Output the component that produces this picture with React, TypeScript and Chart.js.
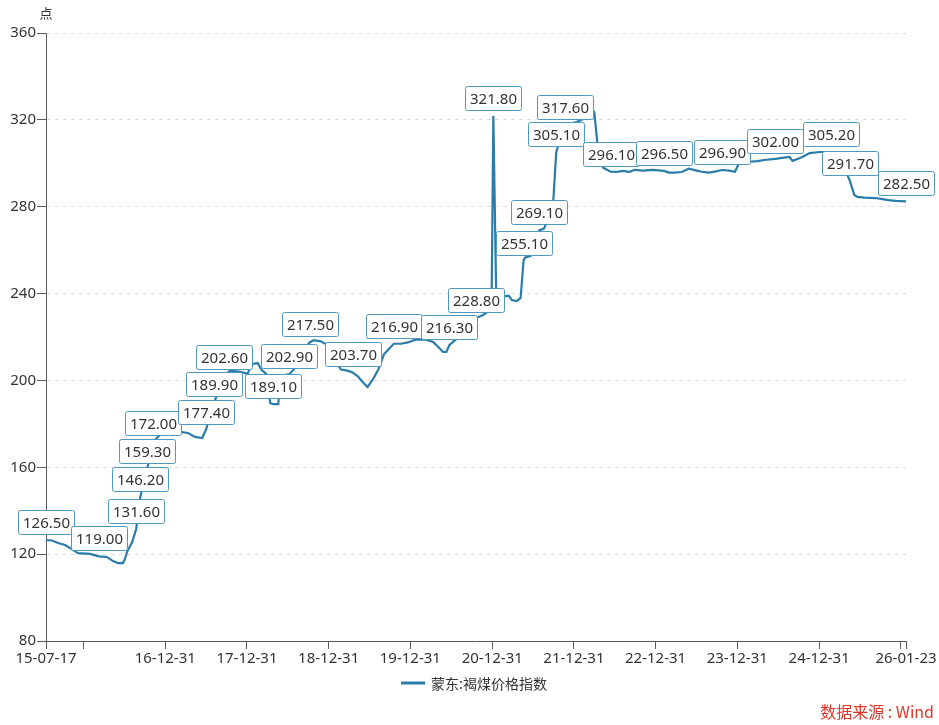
import React, { useEffect, useRef } from 'react';
import { Chart, registerables } from 'chart.js';

Chart.register(...registerables);

const seriesName = '蒙东:褐煤价格指数';
const unitLabel = '点';
const sourceText = '数据来源 : Wind';

const dates = [
  '2015-07-17', '2015-08-13', '2015-09-09', '2015-10-10', '2015-11-02', '2015-12-07',
  '2016-01-30', '2016-03-09', '2016-04-14', '2016-05-11', '2016-06-03', '2016-06-25',
  '2016-07-04', '2016-07-13', '2016-08-05', '2016-08-23', '2016-09-10', '2016-10-11',
  '2016-11-08', '2016-12-09', '2017-01-22', '2017-03-07', '2017-04-12', '2017-05-13',
  '2017-06-14', '2017-07-01', '2017-08-07', '2017-09-21', '2017-10-18', '2017-12-02',
  '2018-01-03', '2018-01-21', '2018-02-17', '2018-03-05', '2018-03-27', '2018-04-14',
  '2018-04-28', '2018-05-20', '2018-05-29', '2018-07-08', '2018-08-05', '2018-09-19',
  '2018-10-07', '2018-10-25', '2018-11-26', '2018-12-22', '2019-01-23', '2019-02-24',
  '2019-03-25', '2019-04-17', '2019-05-09', '2019-06-05', '2019-06-23', '2019-07-20',
  '2019-08-12', '2019-09-04', '2019-09-26', '2019-10-18', '2019-11-19', '2019-12-20',
  '2020-01-26', '2020-03-10', '2020-04-11', '2020-05-03', '2020-05-25', '2020-06-09',
  '2020-06-23', '2020-07-23', '2020-08-24', '2020-09-29', '2020-10-21', '2020-11-22',
  '2020-12-28', '2021-01-05', '2021-01-18', '2021-01-30', '2021-03-15', '2021-03-28',
  '2021-04-19', '2021-05-07', '2021-05-20', '2021-05-26', '2021-06-23', '2021-07-15',
  '2021-07-29', '2021-08-20', '2021-09-12', '2021-09-30', '2021-10-13', '2021-11-19',
  '2022-01-12', '2022-02-26', '2022-03-23', '2022-04-01', '2022-04-19', '2022-05-11',
  '2022-06-13', '2022-07-09', '2022-08-05', '2022-09-06', '2022-09-29', '2022-11-04',
  '2022-12-19', '2023-02-07', '2023-02-28', '2023-03-26', '2023-04-27', '2023-05-28',
  '2023-07-03', '2023-07-25', '2023-08-26', '2023-09-27', '2023-10-24', '2023-11-25',
  '2023-12-21', '2024-01-09', '2024-02-23', '2024-03-29', '2024-04-30', '2024-06-18',
  '2024-07-19', '2024-08-20', '2024-09-03', '2024-09-25', '2024-10-17', '2024-11-18',
  '2025-01-02', '2025-02-20', '2025-03-30', '2025-04-22', '2025-05-06', '2025-05-18',
  '2025-06-06', '2025-06-20', '2025-07-21', '2025-09-09', '2025-10-10', '2025-11-06',
  '2025-12-07', '2026-01-23',
];

const values = [
  126.5, 126.3, 125.1, 124.2, 122.8, 120.5,
  120.1, 119.0, 118.7, 116.8, 115.9, 115.9,
  117.8, 121.0, 125.6, 131.6, 146.2, 159.3,
  172.0, 175.0, 176.0, 176.3, 175.8, 174.0,
  173.5, 177.4, 189.9, 202.6, 204.5, 204.0,
  203.0, 207.5, 208.0, 205.0, 203.0, 189.5,
  189.1, 189.1, 202.0, 202.9, 206.0, 215.0,
  217.5, 218.5, 218.0, 216.5, 210.0, 205.0,
  204.5, 203.7, 202.0, 198.8, 197.0, 201.0,
  205.5, 212.0, 214.5, 216.9, 216.9, 217.5,
  218.9, 218.8, 217.7, 215.5, 213.1, 213.1,
  216.3, 219.0, 224.0, 227.9, 228.8, 230.2,
  233.0, 321.8, 238.0, 238.4, 239.0, 237.0,
  236.5, 238.0, 255.1, 256.5, 257.5, 262.0,
  269.1, 270.0, 276.0, 283.0, 305.1, 317.6,
  319.0, 321.0, 324.6, 323.5, 305.0, 298.0,
  296.1, 296.0, 296.5, 296.1, 297.0, 296.6,
  297.0, 296.5, 295.7, 295.7, 296.0, 297.5,
  296.6, 296.1, 295.7, 296.3, 296.9, 296.6,
  296.1, 300.3, 300.7, 301.0, 301.5, 302.0,
  302.5, 302.9, 301.1, 302.0, 302.9, 304.7,
  305.2, 305.2, 304.7, 300.0, 294.6, 291.7,
  285.4, 284.5, 284.2, 284.0, 283.5, 283.0,
  282.7, 282.5,
];

const labelDates = [
  '2015-07-17', '2016-03-09', '2016-08-23', '2016-09-10', '2016-10-11', '2016-11-08',
  '2017-07-01', '2017-08-07', '2017-09-21', '2018-04-28', '2018-07-08', '2018-10-07',
  '2019-04-17', '2019-10-18', '2020-06-23', '2020-10-21', '2021-01-05', '2021-05-20',
  '2021-07-29', '2021-10-13', '2021-11-19', '2022-06-13', '2023-02-07', '2023-10-24',
  '2024-06-18', '2025-02-20', '2025-05-18', '2026-01-23',
];

const tickDates = [
  '2015-07-17', '2015-12-31', '2016-12-31', '2017-12-31', '2018-12-31', '2019-12-31',
  '2020-12-31', '2021-12-31', '2022-12-31', '2023-12-31', '2024-12-31', '2025-12-31',
  '2026-01-23',
];
const hiddenTickDates = ['2015-12-31', '2025-12-31'];

const yMin = 80;
const yMax = 360;
const yStep = 40;

const LINE_COLOR = '#2a7caa';
const BOX_BORDER = '#4f98c2';
const TEXT_COLOR = '#333333';
const AXIS_COLOR = '#5a5a5a';
const FONT_LATIN = '"Noto Sans", "Noto Sans CJK SC", sans-serif';
const FONT_CJK = '"Noto Sans CJK SC", "Noto Sans", sans-serif';

const toDay = (s: string) => {
  const [y, m, d] = s.split('-').map(Number);
  return Date.UTC(y, m - 1, d) / 86400000;
};
const pad2 = (n: number) => (n < 10 ? '0' + n : '' + n);
const fmtDay = (v: number) => {
  const dt = new Date(Math.round(v) * 86400000);
  return `${String(dt.getUTCFullYear()).slice(2)}-${pad2(dt.getUTCMonth() + 1)}-${pad2(dt.getUTCDate())}`;
};

const overlayPlugin = {
  id: 'overlay',
  afterDatasetsDraw(chart: any) {
    const ctx = chart.ctx;
    const meta = chart.getDatasetMeta(0);
    ctx.save();
    ctx.font = `15px ${FONT_LATIN}`;
    labelDates.forEach((ld) => {
      const i = dates.indexOf(ld);
      if (i < 0) return;
      const pt = meta.data[i];
      const text = values[i].toFixed(2);
      const w = Math.round(ctx.measureText(text).width + 9);
      const h = 24;
      const x0 = Math.round(pt.x - w / 2) + 0.5;
      const y0 = Math.round(pt.y - 6 - h) + 0.5;
      ctx.beginPath();
      ctx.roundRect(x0, y0, w, h, 2);
      ctx.fillStyle = '#ffffff';
      ctx.fill();
      ctx.lineWidth = 1;
      ctx.strokeStyle = BOX_BORDER;
      ctx.stroke();
      ctx.fillStyle = TEXT_COLOR;
      ctx.textAlign = 'center';
      ctx.textBaseline = 'middle';
      ctx.fillText(text, x0 + w / 2, y0 + h / 2 + 1);
    });
    ctx.restore();
  },
  afterDraw(chart: any) {
    const ctx = chart.ctx;
    const area = chart.chartArea;
    ctx.save();
    // unit label
    ctx.font = `13px ${FONT_CJK}`;
    ctx.fillStyle = TEXT_COLOR;
    ctx.textAlign = 'center';
    ctx.textBaseline = 'middle';
    ctx.fillText(unitLabel, area.left, 13);
    // legend
    const legendY = 683;
    ctx.font = `14px ${FONT_CJK}`;
    const tw = ctx.measureText(seriesName).width;
    const total = 24 + 6 + tw;
    const lx = (area.left + area.right) / 2 - total / 2 - 2;
    ctx.beginPath();
    ctx.moveTo(lx, legendY);
    ctx.lineTo(lx + 24, legendY);
    ctx.lineWidth = 3;
    ctx.strokeStyle = LINE_COLOR;
    ctx.stroke();
    ctx.textAlign = 'left';
    ctx.fillStyle = TEXT_COLOR;
    ctx.fillText(seriesName, lx + 30, legendY + 1);
    // source
    ctx.font = `16px ${FONT_CJK}`;
    ctx.fillStyle = '#e0352b';
    ctx.textAlign = 'right';
    ctx.fillText(sourceText, 934, 712);
    ctx.restore();
  },
};

export default function App() {
  const canvasRef = useRef<HTMLCanvasElement | null>(null);

  useEffect(() => {
    document.body.style.margin = '0';
    const canvas = canvasRef.current;
    if (!canvas) return;
    const points = dates.map((d, i) => ({ x: toDay(d), y: values[i] }));
    const tickValues = tickDates.map(toDay);
    const hidden = hiddenTickDates.map(toDay);

    const chart = new Chart(canvas, {
      type: 'line',
      data: {
        datasets: [
          {
            label: seriesName,
            data: points,
            borderColor: LINE_COLOR,
            backgroundColor: LINE_COLOR,
            borderWidth: 2.2,
            pointRadius: 0,
            tension: 0,
            fill: false,
          },
        ],
      },
      options: {
        animation: false,
        responsive: false,
        layout: { padding: { top: 33, right: 33, left: 0, bottom: 0 } },
        plugins: {
          legend: { display: false },
          tooltip: { enabled: false },
        },
        scales: {
          x: {
            type: 'linear',
            min: tickValues[0],
            max: tickValues[tickValues.length - 1],
            afterBuildTicks: (scale: any) => {
              scale.ticks = tickValues.map((v) => ({ value: v }));
            },
            afterFit: (scale: any) => {
              scale.height = 84;
            },
            ticks: {
              autoSkip: false,
              maxRotation: 0,
              minRotation: 0,
              padding: 1,
              color: TEXT_COLOR,
              font: { size: 15, family: FONT_LATIN },
              callback: (v: any) => (hidden.includes(Number(v)) ? '' : fmtDay(Number(v))),
            },
            grid: {
              display: true,
              drawOnChartArea: false,
              drawTicks: true,
              tickLength: 8,
              tickColor: AXIS_COLOR,
              tickWidth: 1,
            },
            border: { display: true, color: AXIS_COLOR, width: 1 },
          },
          y: {
            type: 'linear',
            min: yMin,
            max: yMax,
            afterFit: (scale: any) => {
              scale.width = 46;
            },
            ticks: {
              stepSize: yStep,
              padding: 1,
              color: TEXT_COLOR,
              font: { size: 15, family: FONT_LATIN },
            },
            grid: {
              color: (c: any) => (c.tick && c.tick.value === yMin ? 'rgba(0,0,0,0)' : '#dddddd'),
              drawTicks: true,
              tickLength: 9,
              tickColor: AXIS_COLOR,
              tickWidth: 1,
            },
            border: { display: true, color: AXIS_COLOR, width: 1, dash: [4, 4] },
          },
        },
      },
      plugins: [overlayPlugin],
    } as any);

    return () => chart.destroy();
  }, []);

  return <canvas ref={canvasRef} width={939} height={725} style={{ display: 'block' }} />;
}
